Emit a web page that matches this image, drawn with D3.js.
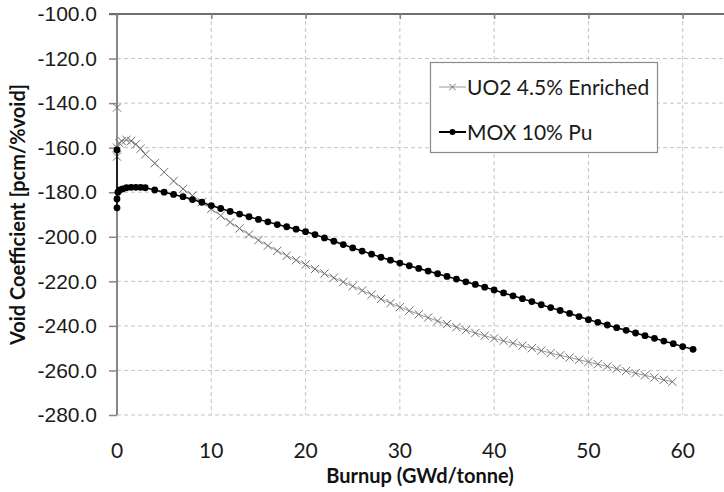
<!DOCTYPE html>
<html>
<head>
<meta charset="utf-8">
<script src="https://cdn.jsdelivr.net/npm/d3@7"></script>
<style>
  body { margin: 0; background: #fff; }
  svg { display: block; font-family: Lato, "Open Sans", sans-serif; }
  .tick-label { font-size: 21px; fill: #1a1a1a; }
  .axis-title { font-size: 20px; font-weight: bold; fill: #111; }
  .legend-text { font-size: 21px; fill: #1a1a1a; }
</style>
</head>
<body>
<svg width="724" height="492"></svg>
<script>
// data
const yTicks = [-100, -120, -140, -160, -180, -200, -220, -240, -260, -280];
const xTicks = [0, 10, 20, 30, 40, 50, 60];

const uo2Burnup = [0, 0, 0, 0.25, 0.5, 1, 1.5, 2, 2.5, 3, 4, 5, 6, 7, 8, 9, 10,
  11, 12, 13, 14, 15, 16, 17, 18, 19, 20, 21, 22, 23, 24, 25, 26, 27, 28, 29, 30,
  31, 32, 33, 34, 35, 36, 37, 38, 39, 40, 41, 42, 43, 44, 45, 46, 47, 48, 49, 50,
  51, 52, 53, 54, 55, 56, 57, 58, 58.9];
const uo2Void = [-142, -164, -160, -158, -157, -156.5, -157, -158.5, -160.5, -163,
  -167, -171, -175, -178.5, -181.5, -184.5, -187.5,
  -190.5, -193.5, -196.3, -199, -201.5, -204, -206.3, -208.5, -210.5, -212.5,
  -214.5, -216.5, -218.4, -220.3, -222.2, -224.1, -226, -227.9, -229.8, -231.6,
  -233.2, -234.8, -236.3, -237.8, -239.2, -240.6, -241.9, -243.2, -244.4, -245.6,
  -246.7, -247.8, -248.9, -250, -251.1, -252.2, -253.2, -254.2, -255.2, -256.2,
  -257.2, -258.2, -259.2, -260.2, -261.2, -262.2, -263.2, -264.2, -265.1];

const moxBurnup = [0, 0, 0, 0.1, 0.3, 0.6, 1, 1.5, 2, 2.5, 3, 4, 5, 6, 7, 8, 9, 10,
  11, 12, 13, 14, 15, 16, 17, 18, 19, 20, 21, 22, 23, 24, 25, 26, 27, 28, 29, 30,
  31, 32, 33, 34, 35, 36, 37, 38, 39, 40, 41, 42, 43, 44, 45, 46, 47, 48, 49, 50,
  51, 52, 53, 54, 55, 56, 57, 58, 59, 60, 61.1];
const moxVoid = [-161, -187, -183, -180, -179, -178.5, -178, -177.8, -177.8, -177.8,
  -178, -179, -180, -181, -182, -183.3, -184.5, -186,
  -187.3, -188.6, -189.8, -191, -192.2, -193.3, -194.5, -195.5, -196.6, -197.7,
  -199, -200.5, -202, -203.5, -205, -206.4, -207.8, -209.2, -210.5, -211.8,
  -213, -214.2, -215.4, -216.6, -217.8, -219, -220.2, -221.4, -222.6, -223.9,
  -225.2, -226.5, -227.8, -229.1, -230.5, -231.8, -233.1, -234.4, -235.8, -237.2,
  -238.4, -239.6, -240.8, -242, -243.2, -244.4, -245.6, -246.8, -248, -249.3, -250.5];

const seriesNames = ['UO2 4.5% Enriched', 'MOX 10% Pu'];

const svg = d3.select('svg');
const width = 724;
const plot = { left: 117, top: 14, bottom: 415 };

const xScale = d3.scaleLinear().domain([0, 70]).range([plot.left, plot.left + 660]);
const yScale = d3.scaleLinear().domain([-280, -100]).range([plot.bottom, plot.top]);

// gridlines
const grid = svg.append('g').attr('stroke', '#c4c4c4').attr('stroke-dasharray', '4,3');
grid.selectAll('.hgrid').data(yTicks.filter(d => d !== -100))
  .enter().append('line')
    .attr('x1', plot.left).attr('x2', width)
    .attr('y1', d => yScale(d)).attr('y2', d => yScale(d));
grid.selectAll('.vgrid').data(xTicks.filter(d => d !== 0))
  .enter().append('line')
    .attr('x1', d => xScale(d)).attr('x2', d => xScale(d))
    .attr('y1', plot.top).attr('y2', plot.bottom);

// axes: horizontal axis line sits on top, labels below
const yAxis = d3.axisLeft(yScale).tickValues(yTicks).tickSize(8);
const yAxisG = svg.append('g')
  .attr('transform', `translate(${plot.left},0)`)
  .call(yAxis);
yAxisG.select('.domain').attr('stroke', '#868686').attr('stroke-width', 2).attr('d', `M0,${plot.top}V${plot.bottom}`);
yAxisG.selectAll('.tick line').attr('stroke', '#868686').attr('stroke-width', 1.5);
yAxisG.selectAll('.tick text')
  .attr('class', 'tick-label')
  .attr('x', -20)
  .attr('font-family', null).attr('font-size', null)
  .text(d => d.toFixed(1));

const xAxisG = svg.append('g')
  .attr('transform', `translate(0,${plot.top})`)
  .call(d3.axisBottom(xScale).tickValues(xTicks).tickSize(5).tickFormat(''));
xAxisG.select('.domain').attr('stroke', '#6e6e6e').attr('stroke-width', 2).attr('d', `M${plot.left - 8},0H${width}`);
xAxisG.selectAll('.tick line').attr('stroke', '#868686').attr('stroke-width', 1.5);

svg.append('g').selectAll('text').data(xTicks)
  .enter().append('text')
    .attr('class', 'tick-label')
    .attr('x', d => xScale(d))
    .attr('y', 458)
    .attr('text-anchor', 'middle')
    .text(d => d);

svg.append('text')
  .attr('class', 'axis-title')
  .attr('x', 420).attr('y', 483)
  .attr('text-anchor', 'middle')
  .text('Burnup (GWd/tonne)');

svg.append('text')
  .attr('class', 'axis-title')
  .attr('transform', `translate(25,${(plot.top + plot.bottom) / 2}) rotate(-90)`)
  .attr('text-anchor', 'middle')
  .text('Void Coefficient [pcm/%void]');

// series
const uo2 = uo2Burnup.map((b, i) => [b, uo2Void[i]]);
const mox = moxBurnup.map((b, i) => [b, moxVoid[i]]);
const line = d3.line().x(d => xScale(d[0])).y(d => yScale(d[1]));
const cross = d3.symbol().type(d3.symbolX).size(46);

svg.append('path').datum(uo2)
  .attr('d', line).attr('fill', 'none')
  .attr('stroke', '#9a9a9a').attr('stroke-width', 1);
svg.append('g').selectAll('path').data(uo2)
  .enter().append('path')
    .attr('d', cross)
    .attr('transform', d => `translate(${xScale(d[0])},${yScale(d[1])})`)
    .attr('fill', 'none').attr('stroke', '#6f6f6f').attr('stroke-width', 1);

svg.append('path').datum(mox)
  .attr('d', line).attr('fill', 'none')
  .attr('stroke', '#000').attr('stroke-width', 1.5);
svg.append('g').selectAll('circle').data(mox)
  .enter().append('circle')
    .attr('cx', d => xScale(d[0]))
    .attr('cy', d => yScale(d[1]))
    .attr('r', 3.4)
    .attr('fill', '#000');

// legend
const legend = svg.append('g');
legend.append('rect')
  .attr('x', 430.5).attr('y', 62.5).attr('width', 227).attr('height', 90)
  .attr('fill', '#fff').attr('stroke', '#8a8a8a').attr('stroke-width', 1.2);

const rows = legend.selectAll('.row').data(seriesNames)
  .enter().append('g')
    .attr('transform', (d, i) => `translate(439,${i === 0 ? 87 : 132})`);
rows.append('line')
  .attr('x1', 0).attr('x2', 27)
  .attr('stroke', (d, i) => i === 0 ? '#9a9a9a' : '#000')
  .attr('stroke-width', (d, i) => i === 0 ? 1 : 2);
rows.filter((d, i) => i === 0).append('path')
  .attr('d', d3.symbol().type(d3.symbolX).size(30)).attr('transform', 'translate(13.5,0)')
  .attr('fill', 'none').attr('stroke', '#6f6f6f');
rows.filter((d, i) => i === 1).append('circle')
  .attr('cx', 13.5).attr('r', 3).attr('fill', '#000');
rows.append('text')
  .attr('class', 'legend-text')
  .attr('x', 28).attr('dy', '0.36em')
  .text(d => d);
</script>
</body>
</html>
